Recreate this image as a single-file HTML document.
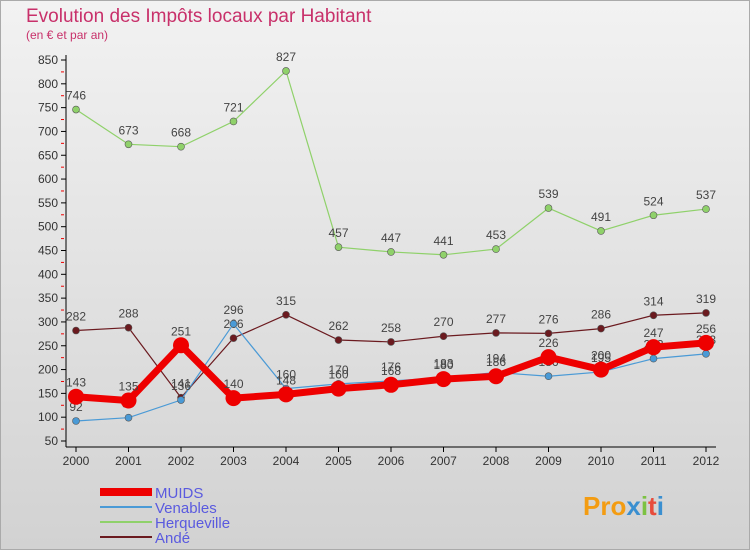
<!DOCTYPE html>
<html><head><meta charset="utf-8"><style>
body{margin:0;width:750px;height:550px;overflow:hidden;font-family:"Liberation Sans",sans-serif;}
</style></head><body>
<svg width="750" height="550" xmlns="http://www.w3.org/2000/svg">
<defs><linearGradient id="bg" x1="0" y1="0" x2="0" y2="1"><stop offset="0" stop-color="#f2f2f2"/><stop offset="1" stop-color="#d2d2d2"/></linearGradient></defs>
<rect x="0.5" y="0.5" width="749" height="549" fill="url(#bg)" stroke="#aaa"/>
<text x="26" y="22" font-size="19" fill="#c8306a">Evolution des Impôts locaux par Habitant</text>
<text x="26" y="39" font-size="12" fill="#c8306a">(en € et par an)</text>
<g id="axes"></g><g id="series"></g><g id="legend"></g>
<text x="583" y="515" font-size="26" font-weight="bold" fill="#f39c12">Pro<tspan fill="#3a8fd0">x</tspan><tspan fill="#7cc242">i</tspan><tspan fill="#e74c3c">t</tspan><tspan fill="#3a8fd0">i</tspan></text>
</svg>
<script>
const years=[2000,2001,2002,2003,2004,2005,2006,2007,2008,2009,2010,2011,2012];
const muids=[143,135,251,140,148,160,168,180,186,226,200,247,256];
const venables=[92,99,136,296,160,170,176,183,194,186,195,223,233];
const herqueville=[746,673,668,721,827,457,447,441,453,539,491,524,537];
const ande=[282,288,141,266,315,262,258,270,277,276,286,314,319];
const yTicks=[50,100,150,200,250,300,350,400,450,500,550,600,650,700,750,800,850];
const NS="http://www.w3.org/2000/svg";
const x=i=>76+i*52.5;
const y=v=>441-(v-50)*381/800;
function mk(t,a,p){const e=document.createElementNS(NS,t);for(const k in a)e.setAttribute(k,a[k]);p.appendChild(e);return e;}
const ax=document.getElementById('axes');
const yl=mk('line',{x1:66,y1:55,x2:66,y2:447,stroke:'#000'},ax);


const xl=mk('line',{x1:66,y1:447,x2:716,y2:447,stroke:'#000'},ax);


yTicks.forEach((v,k)=>{
 mk('line',{x1:61,y1:y(v),x2:66,y2:y(v),stroke:'#000'},ax);
 if(k<yTicks.length-1) mk('line',{x1:61,y1:y(v+25),x2:64,y2:y(v+25),stroke:'#e00'},ax);
 const t=mk('text',{x:58,y:y(v)+4,'font-size':12,'text-anchor':'end',fill:'#333'},ax);t.textContent=v;
 
 
});
years.forEach((yr,i)=>{
 mk('line',{x1:x(i),y1:447,x2:x(i),y2:452,stroke:'#000'},ax);
 const t=mk('text',{x:x(i),y:465,'font-size':12,'text-anchor':'middle',fill:'#333'},ax);t.textContent=yr;
 
 
});
const sg=document.getElementById('series');
const defs=[
 {name:'herqueville',d:herqueville,c:'#8fd16a',w:1.2,r:3.5,label:'Herqueville'},
 {name:'ande',d:ande,c:'#6b1a1f',w:1.2,r:3.5,label:'Andé'},
 {name:'venables',d:venables,c:'#4a9ad6',w:1.2,r:3.5,label:'Venables'},
 {name:'muids',d:muids,c:'#ee0000',w:7,r:8,label:'MUIDS'}];
defs.forEach(s=>{
 const g=mk('g',{},sg);
 
 
 const pl=mk('polyline',{points:s.d.map((v,i)=>x(i)+','+y(v)).join(' '),fill:'none',stroke:s.c,'stroke-width':s.w},g);
 
 
 s.d.forEach((v,i)=>{
  const c=mk('circle',{cx:x(i),cy:y(v),r:s.r,fill:s.c,stroke:s.w>2?'none':'#555','stroke-width':0.6},g);
  
  
  const t=mk('text',{x:x(i),y:y(v)-10,'font-size':12,'text-anchor':'middle',fill:'#444'},g);t.textContent=v;
  
  
 });
});
const lg=document.getElementById('legend');
[defs[3],defs[2],defs[0],defs[1]].forEach((s,k)=>{
 const yy=492+k*15;
 const g=mk('g',{},lg);
 
 
 mk('line',{x1:100,y1:yy,x2:152,y2:yy,stroke:s.c,'stroke-width':s.w>2?8:2},g);
 const t=mk('text',{x:155,y:yy+6,'font-size':15,fill:'#5a5adf'},g);t.textContent=s.label;
});
</script>
</body></html>
